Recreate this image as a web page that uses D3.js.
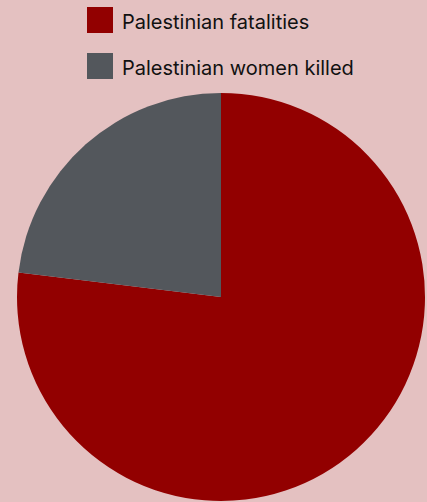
<!DOCTYPE html>
<html>
<head>
<meta charset="utf-8">
<script src="https://cdn.jsdelivr.net/npm/d3@7"></script>
<style>
  body { margin: 0; background: #e4c1c1; }
  svg { display: block; }
</style>
</head>
<body>
<script>
// Width and height
var w = 427;
var h = 502;

var labels = ["Palestinian fatalities", "Palestinian women killed"];
var values = [10000, 3000];
var colors = ["#920000", "#53575c"];

var radius = 204;
var cx = 221, cy = 297;

var svg = d3.select("body")
            .append("svg")
            .attr("width", w)
            .attr("height", h);

svg.append("rect")
   .attr("width", w)
   .attr("height", h)
   .attr("fill", "#e4c1c1");

var pie = d3.pie().sort(null);
var arc = d3.arc().innerRadius(0).outerRadius(radius);

svg.append("g")
   .attr("transform", "translate(" + cx + "," + cy + ")")
   .selectAll("path")
   .data(pie(values))
   .enter()
   .append("path")
   .attr("d", arc)
   .attr("fill", function(d, i) { return colors[i]; });

// legend
var legend = svg.selectAll(".legend")
    .data(labels)
    .enter()
    .append("g")
    .attr("transform", function(d, i) {
        return "translate(87," + (7 + i * 46) + ")";
    });

legend.append("rect")
    .attr("width", 26)
    .attr("height", 26)
    .attr("fill", function(d, i) { return colors[i]; });

legend.append("text")
    .attr("x", 35)
    .attr("y", 22)
    .text(function(d) { return d; })
    .attr("font-family", "Inter, sans-serif")
    .attr("font-size", "20px")
    .attr("fill", "#111");
</script>
</body>
</html>
